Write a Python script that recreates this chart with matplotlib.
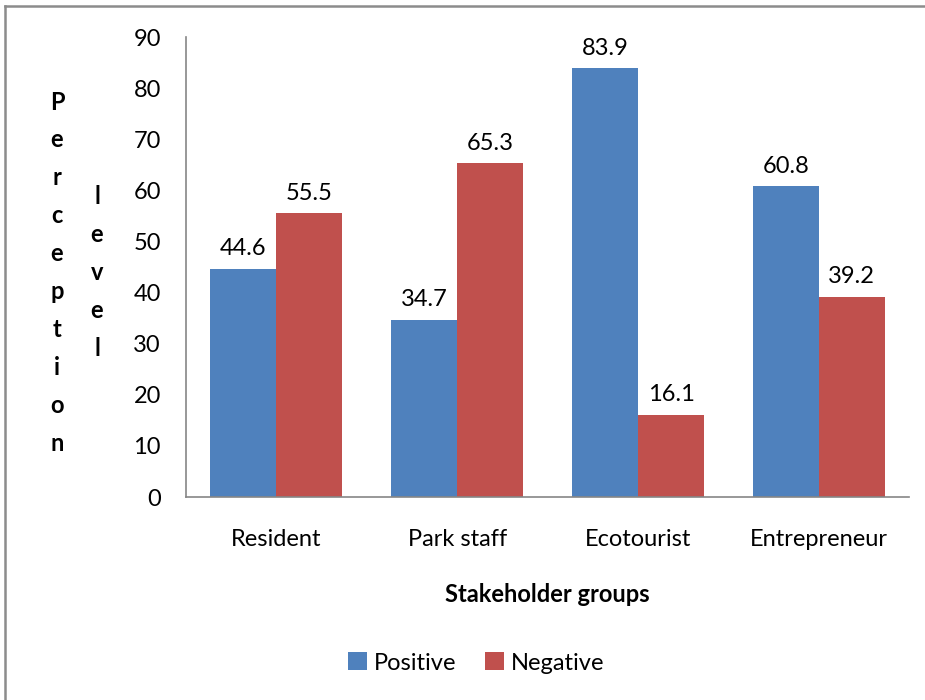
import numpy as np
import matplotlib.pyplot as plt
from matplotlib.lines import Line2D

plt.rcParams["font.family"] = ["Lato", "DejaVu Sans"]

groups = ["Resident", "Park staff", "Ecotourist", "Entrepreneur"]
positive = [44.6, 34.7, 83.9, 60.8]
negative = [55.5, 65.3, 16.1, 39.2]

blue = "#4F81BD"
red = "#C0504D"

fig = plt.figure(figsize=(9.25, 7.0), dpi=100)
ax = fig.add_axes([0.201, 0.29, 0.782, 0.657])

x = np.arange(len(groups))
w = 0.365
b1 = ax.bar(x - w / 2, positive, w, color=blue, label="Positive")
b2 = ax.bar(x + w / 2, negative, w, color=red, label="Negative")
ax.bar_label(b1, labels=[f"{v:.1f}" for v in positive], padding=7, fontsize=17)
ax.bar_label(b2, labels=[f"{v:.1f}" for v in negative], padding=7, fontsize=17)

ax.set_xlim(-0.5, len(groups) - 0.5)
ax.set_ylim(0, 90)
ax.set_yticks(range(0, 91, 10))
ax.set_xticks(x)
ax.set_xticklabels(groups)
ax.tick_params(axis="both", length=0, labelsize=17)
ax.tick_params(axis="y", pad=18)
ax.tick_params(axis="x", pad=23)

for side in ["top", "right"]:
    ax.spines[side].set_visible(False)
for side in ["left", "bottom"]:
    ax.spines[side].set_color("#868686")
    ax.spines[side].set_linewidth(1.2)

ax.set_xlabel("Stakeholder groups", fontsize=17, fontweight="bold", labelpad=24)

# y label stacked one letter per line, in two columns
for i, ch in enumerate("Perception"):
    fig.text(57 / 925, 1 - (102 + i * 37.9) / 700, ch, fontsize=17,
             fontweight="bold", ha="center", va="center")
for i, ch in enumerate("level"):
    fig.text(97 / 925, 1 - (197 + i * 37.8) / 700, ch, fontsize=17,
             fontweight="bold", ha="center", va="center")

fig.legend(loc="center", bbox_to_anchor=(476 / 925, 1 - 663 / 700), ncol=2,
           frameon=False, fontsize=17, handlelength=0.8, handleheight=0.8,
           handletextpad=0.3, columnspacing=1.2)

# chart border
fig.add_artist(Line2D([5 / 925, 5 / 925], [0, 1 - 6 / 700], color="#8c8c8c", lw=1.8))
fig.add_artist(Line2D([5 / 925, 1], [1 - 6 / 700, 1 - 6 / 700], color="#8c8c8c", lw=1.8))

fig.savefig("out.png", dpi=100)
